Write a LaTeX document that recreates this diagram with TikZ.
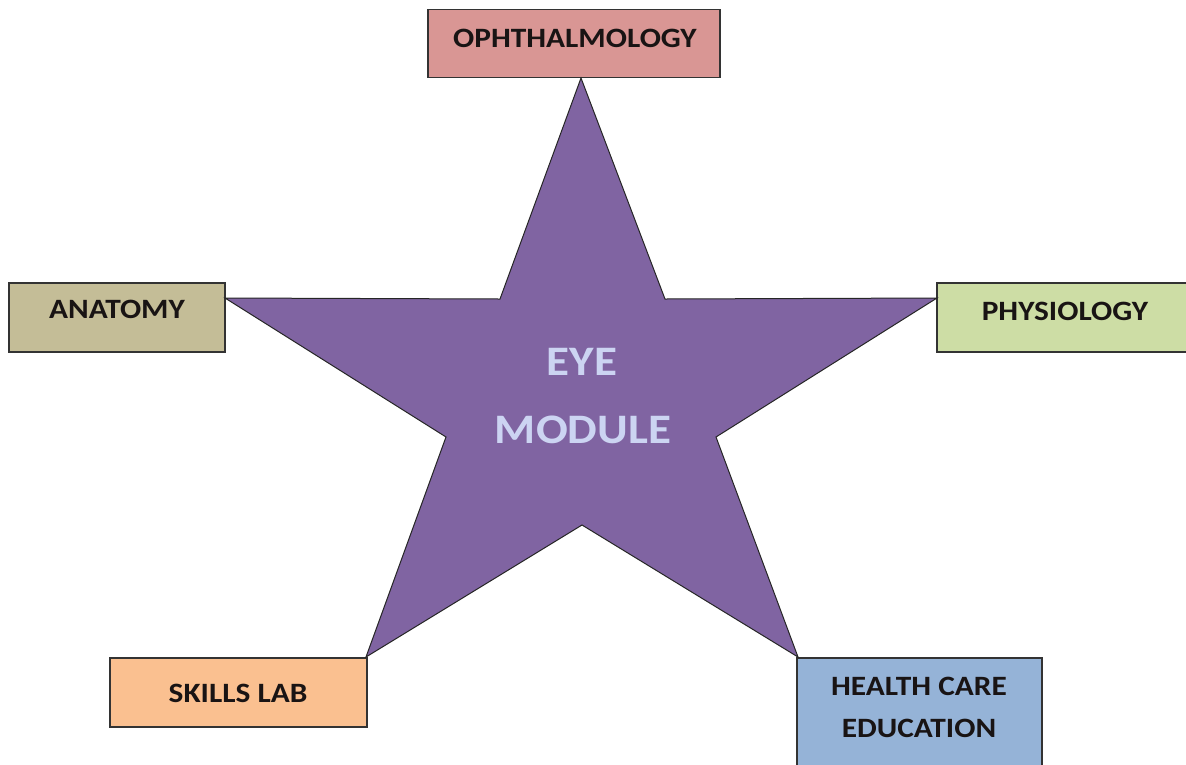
\documentclass[tikz,border=0pt]{standalone}
\usepackage{fontspec}
\setmainfont{Carlito}[FakeStretch=1.12]
\definecolor{starfill}{RGB}{128,100,162}
\definecolor{startext}{RGB}{204,212,242}
\definecolor{cOph}{RGB}{217,150,148}
\definecolor{cAna}{RGB}{196,189,151}
\definecolor{cPhy}{RGB}{205,221,165}
\definecolor{cSki}{RGB}{250,192,144}
\definecolor{cHea}{RGB}{149,179,215}
\definecolor{txt}{RGB}{25,20,20}
\begin{document}
\begin{tikzpicture}[x=1pt,y=-1pt,
  box/.style={draw=black!80,line width=1.2pt,rectangle,inner sep=0pt},
  lbl/.style={anchor=base,text=txt,font=\fontsize{28}{30}\selectfont\bfseries,inner sep=0pt},
  big/.style={anchor=base,text=startext,font=\fontsize{42}{46}\selectfont\bfseries,inner sep=0pt}]
\useasboundingbox (0,0) rectangle (1186,764);
% boxes
\node[box,fill=cOph,minimum width=292pt,minimum height=68pt] (oph) at (574,43.5) {};
\node[box,fill=cAna,minimum width=216pt,minimum height=69pt] (ana) at (117,317.5) {};
\node[box,fill=cPhy,minimum width=250pt,minimum height=69pt] (phy) at (1062,317.5) {};
\node[box,fill=cSki,minimum width=257pt,minimum height=69pt] (ski) at (238.5,692.5) {};
\node[box,fill=cHea,minimum width=245pt,minimum height=110pt] (hea) at (919.5,713) {};
% star
\coordinate (pT) at (581,78);
\coordinate (pL) at (225,298);
\coordinate (pR) at (937,298);
\coordinate (pBL) at (366,657);
\coordinate (pBR) at (798,657);
\coordinate (iTL) at (500,299);
\coordinate (iTR) at (665,299);
\coordinate (iL) at (446,437);
\coordinate (iR) at (716,437);
\coordinate (iB) at (582,525);
\draw[fill=starfill,draw=black!85,line width=1pt,line join=miter]
  (pT) -- (iTR) -- (pR) -- (iR) -- (pBR) -- (iB) -- (pBL) -- (iL) -- (pL) -- (iTL) -- cycle;
% texts
\node[lbl] (tOph) at (575,47) {OPHTHALMOLOGY};
\node[lbl] (tAna) at (117,318) {ANATOMY};
\node[lbl] (tPhy) at (1065,320) {PHYSIOLOGY};
\node[lbl] (tSki) at (238,702) {SKILLS LAB};
\node[lbl] (tHea1) at (919,695) {HEALTH CARE};
\node[lbl] (tHea2) at (919,737) {EDUCATION};
\node[big] (eye) at (582,375) {EYE};
\node[big] (mod) at (583,443) {MODULE};
\end{tikzpicture}
\end{document}
